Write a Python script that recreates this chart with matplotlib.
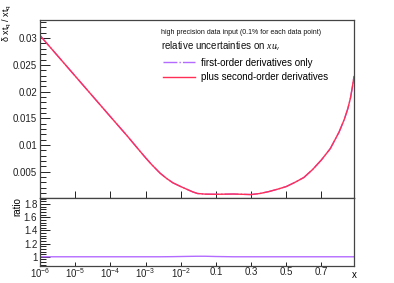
import numpy as np
import matplotlib
matplotlib.use("Agg")
import matplotlib.pyplot as plt
from matplotlib.ticker import FixedLocator, MultipleLocator

plt.rcParams['font.family'] = ['Liberation Sans', 'DejaVu Sans']
plt.rcParams['mathtext.fontset'] = 'custom'
plt.rcParams['mathtext.rm'] = 'Liberation Sans'
plt.rcParams['mathtext.it'] = 'Liberation Serif:italic'

# values
x_vals = [1e-6, 1e-5, 1e-4, 3e-4, 7e-4, 1e-3, 1.5e-3, 2.6e-3, 4e-3, 6e-3,
          1e-2, 1.6e-2, 2.2e-2, 3e-2, 5e-2, 0.1, 0.2, 0.3, 0.35, 0.4, 0.45,
          0.5, 0.55, 0.6, 0.65, 0.7, 0.75, 0.8, 0.83, 0.85, 0.865, 0.875,
          0.885]
second_order = [0.0305, 0.0229, 0.0153, 0.0117, 0.0088, 0.0076, 0.0063,
                0.0047, 0.0037, 0.0029, 0.0022, 0.0016, 0.0012, 0.0009,
                0.00078, 0.00075, 0.0008, 0.0007, 0.0009, 0.00125, 0.0017,
                0.0022, 0.0030, 0.0039, 0.0054, 0.0072, 0.0093, 0.0124,
                0.0148, 0.0168, 0.0188, 0.0207, 0.0228]
first_order = second_order
ratio = [1.0, 1.0, 1.0, 1.0, 1.0, 1.0, 1.0, 1.0, 1.001, 1.002,
         1.004, 1.006, 1.007, 1.008, 1.008, 1.004, 1.0, 1.0, 1.0, 1.0,
         1.0, 1.0, 1.0, 1.0, 1.0, 1.0, 1.0, 1.0, 1.0, 1.0, 1.0, 1.0, 1.0]

xtick_vals = [1e-6, 1e-5, 1e-4, 1e-3, 1e-2, 0.1, 0.3, 0.5, 0.7]
xtick_labels = ['$10^{-6}$', '$10^{-5}$', '$10^{-4}$', '$10^{-3}$',
                '$10^{-2}$', '0.1', '0.3', '0.5', '0.7']
ytick_top = [0.005, 0.01, 0.015, 0.02, 0.025, 0.03]
ytick_top_labels = ['0.005', '0.01', '0.015', '0.02', '0.025', '0.03']
ytick_low = [1, 1.2, 1.4, 1.6, 1.8]
ytick_low_labels = ['1', '1.2', '1.4', '1.6', '1.8']


def fwd(x):
    x = np.asarray(x, dtype=float)
    xs = np.clip(x, 1e-300, None)
    return np.where(x <= 0.1, np.log10(xs) + 6, 5 + (x - 0.1) / 0.2)


def inv(u):
    u = np.asarray(u, dtype=float)
    return np.where(u <= 5, 10 ** (np.minimum(u, 5) - 6), 0.1 + (u - 5) * 0.2)


purple = '#b36bff'
red = '#ff2f55'
frame = '#444444'

fig = plt.figure(figsize=(3.94, 2.83), dpi=100)
ax1 = fig.add_axes([40 / 394, 1 - 197.5 / 283, 314 / 394, 177.5 / 283])
ax2 = fig.add_axes([40 / 394, 1 - 266 / 283, 314 / 394, 68.5 / 283])

for ax in (ax1, ax2):
    ax.set_xscale('function', functions=(fwd, inv))
    ax.set_xlim(1e-6, 0.885)
    ax.xaxis.set_major_locator(FixedLocator(xtick_vals))
    ax.xaxis.set_minor_locator(FixedLocator([]))
    for s in ax.spines.values():
        s.set_color(frame)
        s.set_linewidth(0.9)
    ax.tick_params(which='both', direction='in', top=False, right=False,
                   colors='#222222', labelsize=7, pad=2, width=0.7)

# top panel
ax1.plot(x_vals, first_order, color=purple, lw=1.0,
         dashes=(10, 1.5, 1, 1.5), label='first-order derivatives only')
ax1.plot(x_vals, second_order, color=red, lw=1.0,
         label='plus second-order derivatives')
ax1.set_ylim(0.00015, 0.0334)
ax1.set_yticks(ytick_top)
ax1.set_yticklabels(ytick_top_labels)
ax1.yaxis.set_minor_locator(MultipleLocator(0.001))
ax1.tick_params(axis='y', which='major', length=7)
ax1.tick_params(axis='y', which='minor', length=4)
ax1.tick_params(axis='x', which='major', length=5, labelbottom=False)

ax1.legend(loc='upper left', bbox_to_anchor=(0.38, 0.81), frameon=False,
           fontsize=7, handlelength=3.3, handletextpad=0.6,
           labelspacing=0.45, borderaxespad=0)
fig.text(161 / 394, 1 - 33 / 283,
         'high precision data input (0.1% for each data point)',
         fontsize=5, va='center', ha='left', color='#111111')
fig.text(161 / 394, 1 - 46 / 283, 'relative uncertainties on $xu_v$',
         fontsize=7, va='center', ha='left', color='#111111')

# ratio panel
ax2.plot(x_vals, ratio, color=purple, lw=1.0)
ax2.set_ylim(0.86, 1.9)
ax2.set_yticks(ytick_low)
ax2.set_yticklabels(ytick_low_labels)
ax2.yaxis.set_minor_locator(MultipleLocator(0.04))
ax2.tick_params(axis='y', which='major', length=7)
ax2.tick_params(axis='y', which='minor', length=4)
ax2.tick_params(axis='x', which='major', length=3, pad=1)
ax2.set_xticklabels(xtick_labels)

fig.text(7 / 394, 1 - 4 / 283, r'δ $\mathrm{xt_q}$ / $\mathrm{xt_q}$',
         rotation=90, fontsize=6.5, ha='center', va='top')
fig.text(17 / 394, 1 - 197 / 283, 'ratio', rotation=90, fontsize=7,
         ha='center', va='top')
fig.text(354 / 394, 1 - 275 / 283, 'x', fontsize=7, ha='center',
         va='center')

fig.savefig('out.png', dpi=100)
